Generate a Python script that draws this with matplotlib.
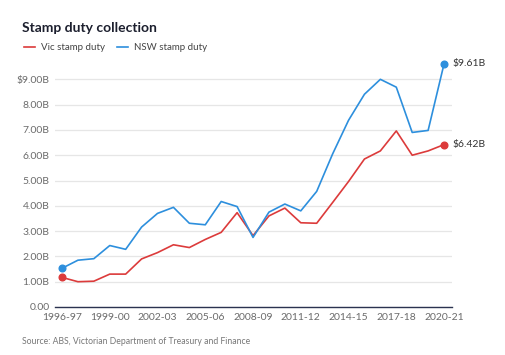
import matplotlib
matplotlib.use("Agg")
import matplotlib.pyplot as plt
from matplotlib.lines import Line2D

plt.rcParams['font.family'] = ['Lato', 'DejaVu Sans']

years = ["1996-97", "1997-98", "1998-99", "1999-00", "2000-01", "2001-02", "2002-03",
         "2003-04", "2004-05", "2005-06", "2006-07", "2007-08", "2008-09", "2009-10",
         "2010-11", "2011-12", "2012-13", "2013-14", "2014-15", "2015-16", "2016-17",
         "2017-18", "2018-19", "2019-20", "2020-21"]
vic = [1.17, 1.00, 1.02, 1.30, 1.30, 1.90, 2.15, 2.46, 2.35, 2.67, 2.95, 3.73, 2.82,
       3.60, 3.91, 3.33, 3.31, 4.13, 4.96, 5.85, 6.17, 6.96, 6.00, 6.17, 6.42]
nsw = [1.53, 1.85, 1.91, 2.43, 2.28, 3.16, 3.70, 3.94, 3.31, 3.25, 4.17, 3.97, 2.75,
       3.75, 4.07, 3.80, 4.57, 6.05, 7.38, 8.41, 9.00, 8.69, 6.90, 6.98, 9.61]
y_ticks = [0, 1, 2, 3, 4, 5, 6, 7, 8, 9]
y_tick_labels = ["0.00", "1.00B", "2.00B", "3.00B", "4.00B", "5.00B", "6.00B",
                 "7.00B", "8.00B", "$9.00B"]
x_tick_years = ["1996-97", "1999-00", "2002-03", "2005-06", "2008-09", "2011-12",
                "2014-15", "2017-18", "2020-21"]

RED = "#dc3b3b"
BLUE = "#2d8fdd"
GRID = "#e6e6e6"
TICK = "#6b6b6b"

fig = plt.figure(figsize=(5.06, 3.55), dpi=100)
ax = fig.add_axes([55/506, 48/355, (452-55)/506, 0.830 - 48/355])

x = list(range(len(years)))
ax.plot(x, vic, color=RED, lw=1.2, zorder=3)
ax.plot(x, nsw, color=BLUE, lw=1.2, zorder=3)
for series, col in ((vic, RED), (nsw, BLUE)):
    ax.plot([x[0], x[-1]], [series[0], series[-1]], 'o', color=col, ms=4.8, zorder=4)
    ax.annotate(f"${series[-1]:.2f}B", (x[-1], series[-1]), xytext=(6, 0),
                textcoords='offset points', va='center', ha='left',
                fontsize=7.5, color="#333333", annotation_clip=False)

ax.set_xlim(-0.44, 24.5)
ax.set_ylim(0, 9.75)
ax.set_yticks(y_ticks)
ax.set_yticklabels(y_tick_labels)
ax.set_xticks([years.index(y) for y in x_tick_years])
ax.set_xticklabels(x_tick_years)
ax.tick_params(axis='both', length=0, labelsize=7.5, colors=TICK)
ax.tick_params(axis='y', pad=4)
ax.tick_params(axis='x', pad=4)
ax.grid(axis='y', color=GRID, lw=0.9)
ax.set_axisbelow(True)
for s in ('top', 'right', 'left'):
    ax.spines[s].set_visible(False)
ax.spines['bottom'].set_color("#2b3350")
ax.spines['bottom'].set_linewidth(1.0)
ax.spines['bottom'].set_zorder(5)

fig.text(22/506, 1 - 28/355, "Stamp duty collection", fontsize=10, fontweight='bold',
         color="#1c1f2e", va='center', ha='left')

handles = [Line2D([], [], color=RED, lw=1.2), Line2D([], [], color=BLUE, lw=1.2)]
fig.legend(handles, ["Vic stamp duty", "NSW stamp duty"], loc='center left',
           bbox_to_anchor=(24/506, 1 - 48/355), ncol=2, frameon=False, fontsize=7,
           handlelength=1.1, handletextpad=0.6, columnspacing=1.3, labelcolor="#444444",
           borderaxespad=0, borderpad=0)

fig.text(22/506, 1 - 341/355, "Source: ABS, Victorian Department of Treasury and Finance",
         fontsize=6.2, color="#777777", va='center', ha='left')

fig.savefig("out.png", dpi=100, facecolor='white')
